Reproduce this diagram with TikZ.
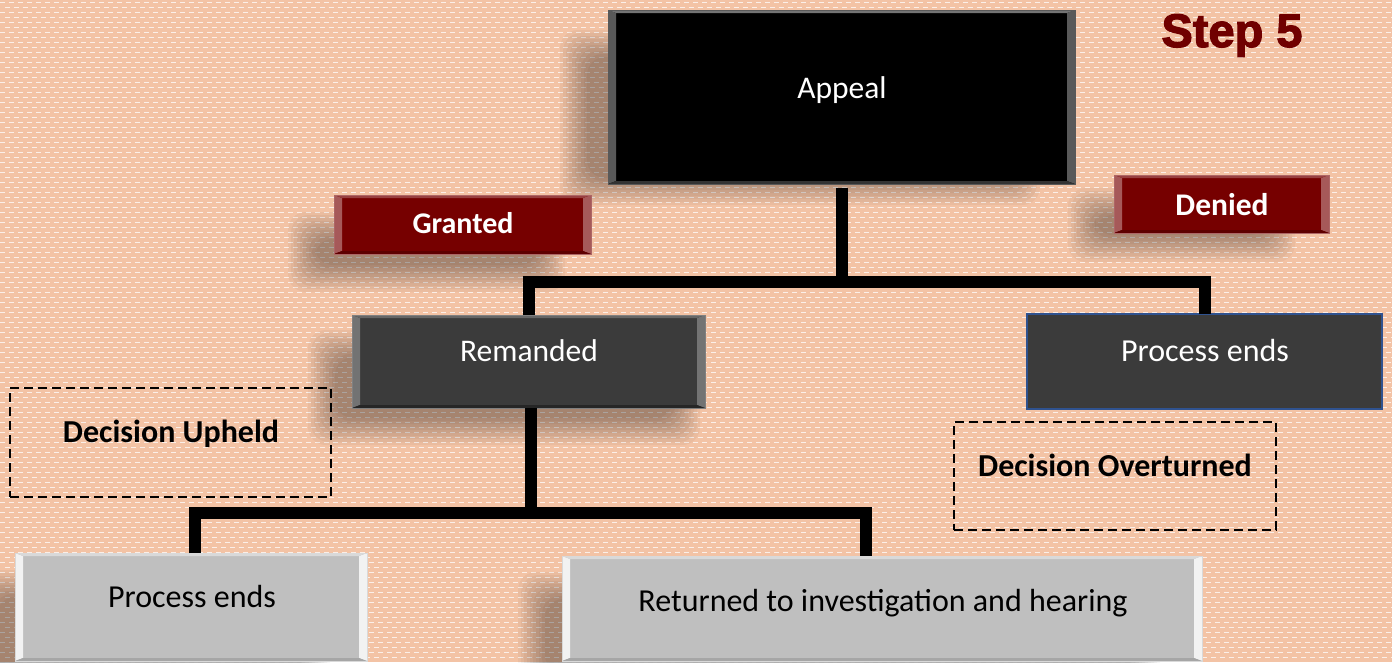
\documentclass[tikz,border=0pt]{standalone}
\usepackage{fontspec}
\setmainfont{Carlito}
\newfontface\stepfont[FakeBold=2.5]{Liberation Sans Bold}
\definecolor{bgc}{HTML}{F3C3A5}
\definecolor{dred}{HTML}{760000}
\definecolor{stepred}{HTML}{700000}
\definecolor{dgray}{HTML}{3B3B3B}
\definecolor{lgray}{HTML}{BFBFBF}
\definecolor{bord}{HTML}{2F528F}
\newcommand\mysoftshadow[4]{%
  \foreach \k in {0,...,9}{%
    \fill[black,opacity=0.035,rounded corners=18pt] (#1+3*\k,#2+3*\k) rectangle (#3-3*\k,#4-3*\k);}}
\tikzset{
  bevel/.style n args={3}{path picture={
    \fill[#1] (path picture bounding box.south west) -- (path picture bounding box.north west)
      -- ([xshift=8pt,yshift=-3pt]path picture bounding box.north west) -- ([xshift=8pt,yshift=3pt]path picture bounding box.south west) -- cycle;
    \fill[#1] (path picture bounding box.south east) -- (path picture bounding box.north east)
      -- ([xshift=-8pt,yshift=-3pt]path picture bounding box.north east) -- ([xshift=-8pt,yshift=3pt]path picture bounding box.south east) -- cycle;
    \fill[#2] (path picture bounding box.north west) -- (path picture bounding box.north east)
      -- ([xshift=-8pt,yshift=-3pt]path picture bounding box.north east) -- ([xshift=8pt,yshift=-3pt]path picture bounding box.north west) -- cycle;
    \fill[#3] (path picture bounding box.south west) -- (path picture bounding box.south east)
      -- ([xshift=-8pt,yshift=3pt]path picture bounding box.south east) -- ([xshift=8pt,yshift=3pt]path picture bounding box.south west) -- cycle;
  }},
  boxbase/.style={rectangle, inner sep=0pt, outer sep=0pt},
  blackbox/.style={boxbase, fill=black, draw=black!65, line width=1pt, bevel={black!65}{black!55}{black!80}},
  redbox/.style={boxbase, fill=dred, draw=dred!60!white, line width=0.8pt, bevel={dred!65!white}{dred!75!white}{dred!80!black}},
  darkbox/.style={boxbase, fill=dgray, draw=black!50, line width=1pt, bevel={black!55}{black!60}{black!85}},
  bluebox/.style={boxbase, fill=dgray, draw=bord, line width=2pt},
  greybox/.style={boxbase, fill=lgray, draw=white!85!black, line width=1pt, bevel={white!95!black}{white!85!black}{black!35}},
  dashbox/.style={boxbase, draw=black, line width=2.8pt, dash pattern=on 9pt off 5pt},
  wtxt/.style={text=white, anchor=base, inner sep=0pt, font=\fontsize{31.5}{37}\selectfont},
  wbtxt/.style={text=white, anchor=base, inner sep=0pt, font=\fontsize{30}{35}\selectfont\bfseries},
  btxt/.style={text=black, anchor=base, inner sep=0pt, font=\fontsize{32}{37}\selectfont},
  bbtxt/.style={text=black, anchor=base, inner sep=0pt, font=\fontsize{32}{36}\selectfont\bfseries},
  conn/.style={line width=12pt, black, line join=miter},
  bgdash/.style={white, opacity=0.75, line width=1.8pt, dash pattern=on 5pt off 4pt},
}
\begin{document}
\begin{tikzpicture}[x=1pt,y=-1pt]
\useasboundingbox (0,0) rectangle (1392,662);
\fill[bgc] (0,0) rectangle (1392,662);
% background texture
\foreach \r in {0,...,66}{%
  \draw[bgdash] (0,{2.5+10*\r}) -- (1392,{2.5+10*\r});
  \draw[bgdash] (-4.5,{7.5+10*\r}) -- (1392,{7.5+10*\r});
}
% soft shadows
\mysoftshadow{560}{30}{1040}{205}
\mysoftshadow{288}{212}{565}{292}
\mysoftshadow{1068}{188}{1295}{262}
\mysoftshadow{308}{330}{700}{445}
\mysoftshadow{518}{572}{1160}{700}
\mysoftshadow{-30}{570}{330}{700}
% boxes
\node[blackbox, minimum width=467pt, minimum height=174pt] (appeal) at (841.5,97) {};
\node[redbox, minimum width=257pt, minimum height=59pt] (granted) at (462.5,224.5) {};
\node[redbox, minimum width=215pt, minimum height=58pt] (denied) at (1221.5,204) {};
\node[darkbox, minimum width=353pt, minimum height=93pt] (remanded) at (528.5,361.5) {};
\node[bluebox, minimum width=355pt, minimum height=95pt] (pe1) at (1204.5,361.5) {};
\node[dashbox, minimum width=321pt, minimum height=109pt] (upheld) at (170.5,442.5) {};
\node[dashbox, minimum width=322pt, minimum height=108pt] (overturned) at (1115,476) {};
\node[greybox, minimum width=352pt, minimum height=108pt] (pe2) at (191,607) {};
\node[greybox, minimum width=640pt, minimum height=105pt] (returned) at (882,608.5) {};
% connectors
\coordinate (j1) at (841,282);
\coordinate (j2) at (531,513);
\draw[conn] ([yshift=-4pt]appeal.south) -- (appeal.south |- j1);
\draw[conn] (remanded.north) |- (j1) -| (pe1.north);
\draw[conn] ([xshift=2.5pt]remanded.south) -- ([xshift=2.5pt]remanded.south |- j2);
\draw[conn] ([xshift=4pt]pe2.north) |- (j2) -| ([xshift=-16pt]returned.north);
% texts
\node[wtxt] (appeal-t) at (842,98) {Appeal};
\node[wbtxt] (granted-t) at (463,233) {Granted};
\node[wbtxt, font=\fontsize{31.5}{36}\selectfont\bfseries] (denied-t) at (1222,215) {Denied};
\node[wtxt] (remanded-t) at (529,361) {Remanded};
\node[wtxt, font=\fontsize{32}{37}\selectfont] (pe1-t) at (1205,361) {Process ends};
\node[bbtxt] (upheld-t) at (171,442) {Decision Upheld};
\node[bbtxt] (overturned-t) at (1115,476) {Decision Overturned};
\node[btxt] (pe2-t) at (192,607) {Process ends};
\node[btxt] (returned-t) at (883,611) {Returned to investigation and hearing};
\node[text=stepred, anchor=base, inner sep=0pt, font=\fontsize{47}{56}\stepfont] (step) at (1232,47) {Step 5};
\end{tikzpicture}
\end{document}
